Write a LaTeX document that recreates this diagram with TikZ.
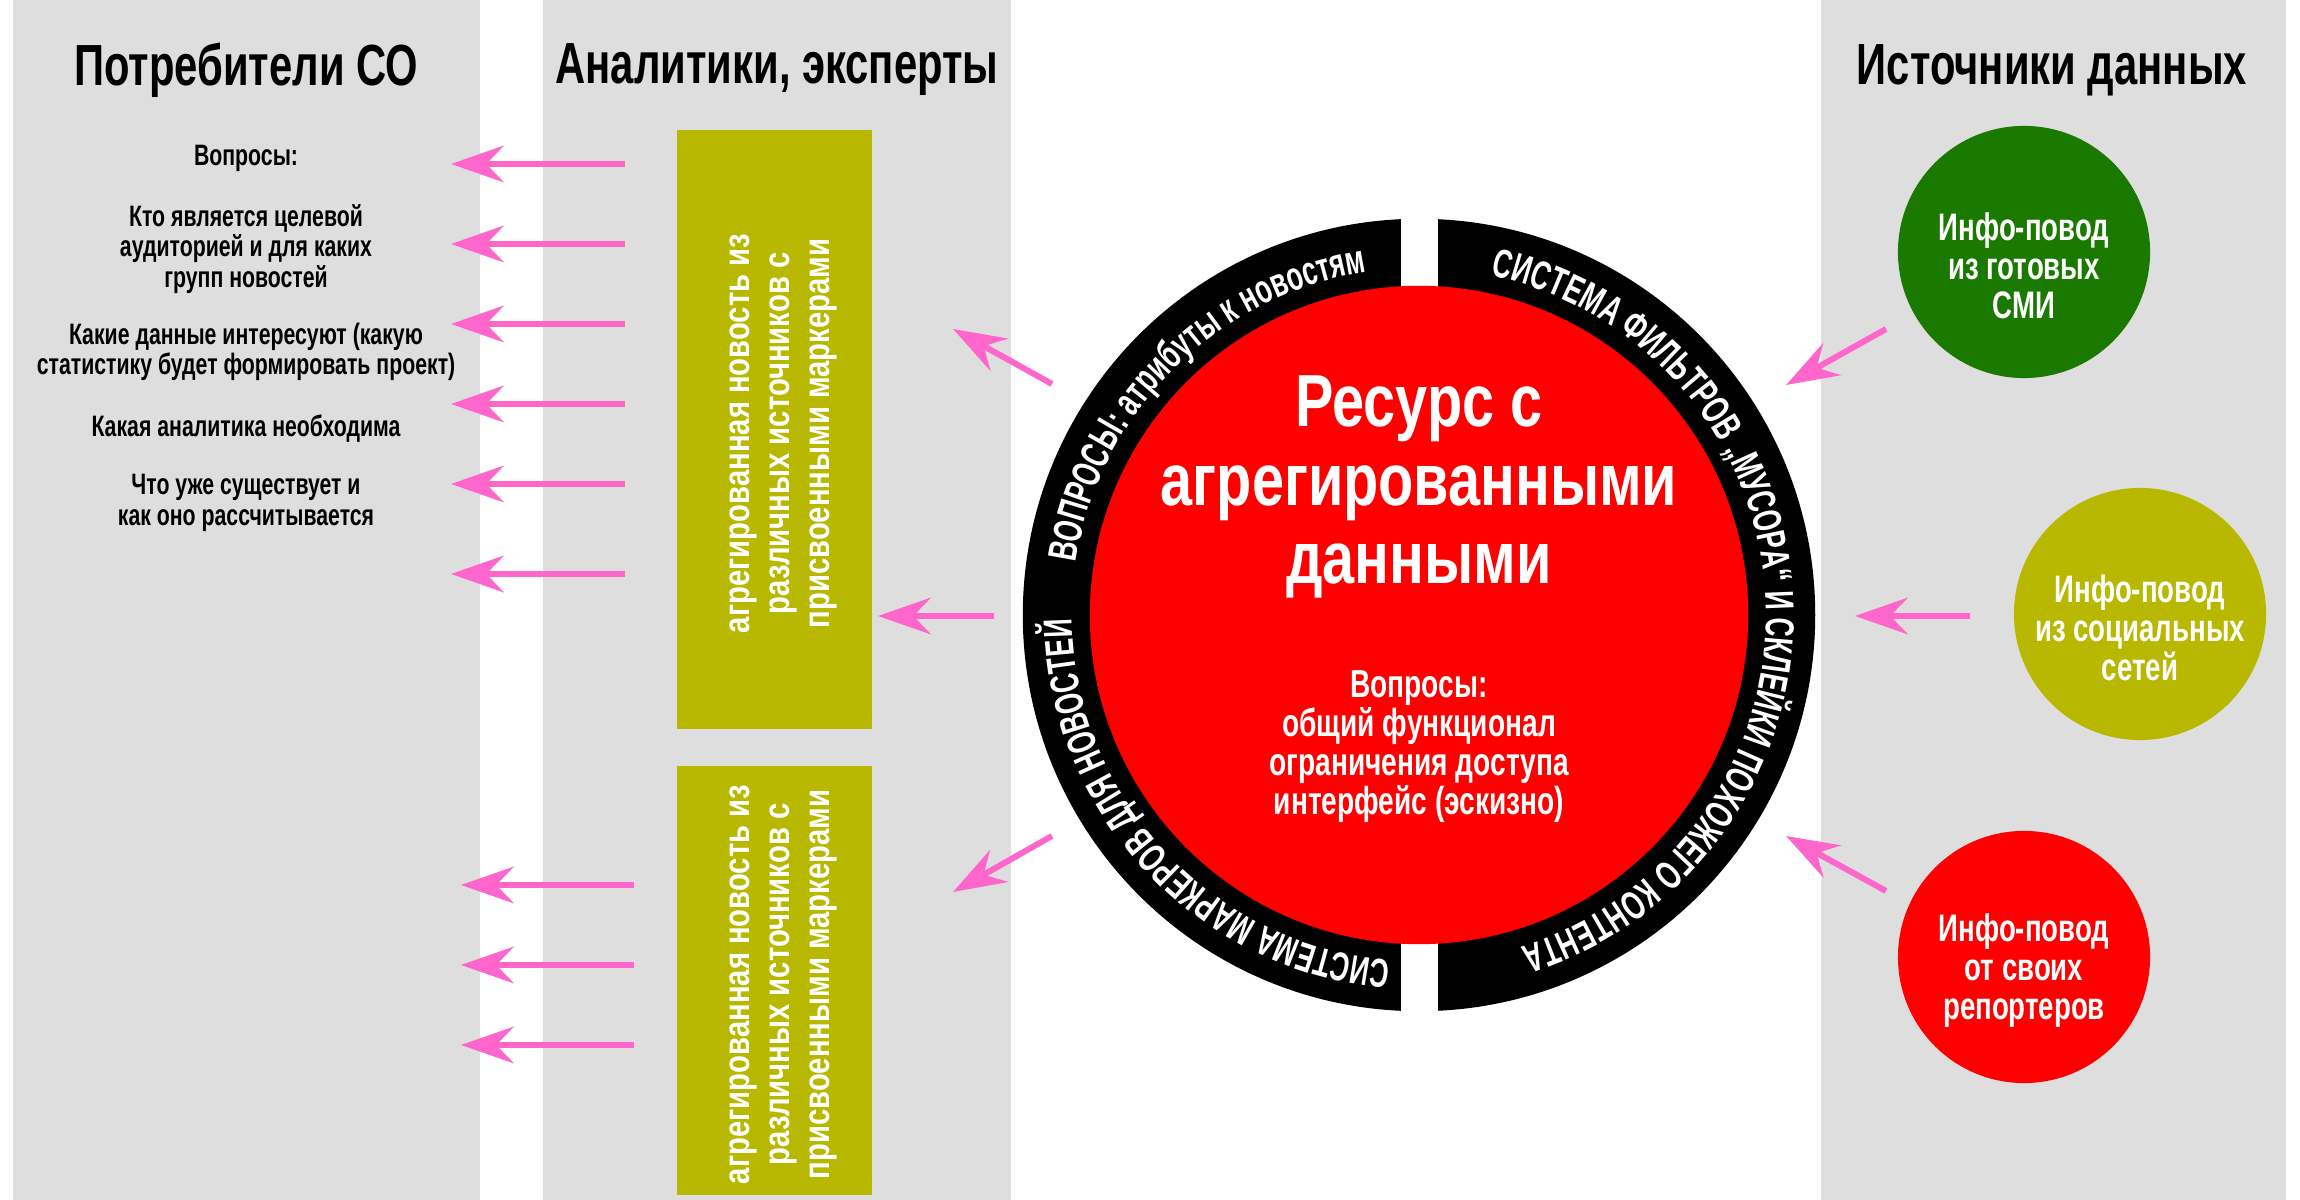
\documentclass[tikz,border=0pt]{standalone}
\usepackage{fontspec}
\setmainfont{Liberation Sans}[FakeStretch=0.72]
\newfontfamily\ringfam{Liberation Sans}[FakeStretch=0.655]
\newfontfamily\boxfam{Liberation Sans}[FakeStretch=0.80]
\newfontfamily\titlefam{Liberation Sans}[FakeStretch=0.78]
\usetikzlibrary{arrows.meta,decorations.text}
\definecolor{panelgray}{HTML}{DEDEDE}
\definecolor{arrowpink}{HTML}{FF66CC}
\definecolor{aggolive}{HTML}{B8B800}
\definecolor{srcgreen}{HTML}{1A7A00}
\definecolor{resred}{HTML}{FF0000}
\newcommand\ringfont{\ringfam\bfseries\fontsize{11.5}{12}\selectfont\color{white}}
\tikzset{
  panel/.style={fill=panelgray},
  heading/.style={font=\bfseries\fontsize{16.5}{18}\selectfont},
  ask/.style={align=center, font=\bfseries\fontsize{8.4}{8.7}\selectfont},
  pinkarr/.style={draw=arrowpink, line width=1.7pt, -{Stealth[length=15pt,width=10.4pt,inset=5pt]}},
  aggbox/.style={fill=aggolive, minimum width=1.95cm, inner sep=0pt},
  aggtext/.style={text=white, align=center, rotate=90, font=\boxfam\bfseries\fontsize{10.4}{11.4}\selectfont},
  srcnode/.style={circle, minimum size=2.52cm, inner sep=0pt},
  srclabel/.style={text=white, align=center, yshift=-0.14cm, font=\bfseries\fontsize{10.9}{11.1}\selectfont},
  ringtext/.style={decorate, decoration={text along path, text align=center, text={|\ringfont|#1}}}
}
\begin{document}
\begin{tikzpicture}[x=0.01cm, y=0.01cm, line join=round]
\fill[white] (0,0) rectangle (2300,1200);
\useasboundingbox (0,0) rectangle (2300,1200);
\fill[panel] (13,0) rectangle (480,1200);
\fill[panel] (543,0) rectangle (1011,1200);
\fill[panel] (1821,0) rectangle (2286,1200);

\node[heading] (hcons) at (246,1130) {Потребители СО};
\node[heading] (hanal) at (777,1130) {Аналитики, эксперты};
\node[heading] (hsrc) at (2052,1130) {Источники данных};

\node[ask] (q1) at (246,1042) {Вопросы:};
\node[ask] (q2) at (246,951) {Кто является целевой\\аудиторией и для каких\\групп новостей};
\node[ask] (q3) at (246,848) {Какие данные интересуют (какую\\статистику будет формировать проект)};
\node[ask] (q4) at (246,771) {Какая аналитика необходима};
\node[ask] (q5) at (246,697) {Что уже существует и\\как оно рассчитывается};

\foreach \i/\y in {1/1036,2/956,3/876,4/796,5/716,6/626}{
  \coordinate (ut\i) at (625,\y);
  \coordinate (uh\i) at (451,\y);
  \draw[pinkarr] (ut\i) -- (uh\i);
}
\foreach \i/\y in {1/315,2/235,3/155}{
  \coordinate (lt\i) at (634,\y);
  \coordinate (lh\i) at (461,\y);
  \draw[pinkarr] (lt\i) -- (lh\i);
}

\node[aggbox, minimum height=5.99cm] (agg1) at (774.5,770.5) {};
\node[aggbox, minimum height=4.29cm] (agg2) at (774.5,219.5) {};
\node[aggtext] (agg1txt) at (783.5,766.5) {агрегированная новость из\\различных источников с\\присвоенными маркерами};
\node[aggtext] (agg2txt) at (783.5,215.5) {агрегированная новость из\\различных источников с\\присвоенными маркерами};

\node[circle, fill=black, minimum size=7.92cm, inner sep=0pt] (ring) at (1419,585) {};
\fill[white] (1401,900) rectangle (1438,990);
\fill[white] (1401,180) rectangle (1438,270);
\node[circle, fill=resred, minimum size=6.58cm, inner sep=0pt] (res) at (1419,585) {};
\path[ringtext={ВОПРОСЫ: атрибуты к новостям}] (ring.center) ++(175:347) arc[start angle=175, end angle=95, radius=347];
\path[ringtext={СИСТЕМА ФИЛЬТРОВ „МУСОРА“ И СКЛЕЙКИ ПОХОЖЕГО КОНТЕНТА}] (ring.center) ++(89:347) arc[start angle=89, end angle=-84, radius=347];
\path[ringtext={СИСТЕМА МАРКЕРОВ ДЛЯ НОВОСТЕЙ}] (ring.center) ++(268:347) arc[start angle=268, end angle=178, radius=347];

\node[align=center, text=white, font=\titlefam\bfseries\fontsize{21}{22.4}\selectfont] (title) at (1419,713) {Ресурс с\\агрегированными\\данными};
\node[align=center, text=white, font=\bfseries\fontsize{11.1}{11.1}\selectfont] (asks) at (1419,453) {Вопросы:\\общий функционал\\ограничения доступа\\интерфейс (эскизно)};

\node[srcnode, fill=srcgreen, label={[srclabel]center:{Инфо-повод\\из готовых\\СМИ}}] (src1) at (2024,948) {};
\node[srcnode, fill=aggolive, label={[srclabel]center:{Инфо-повод\\из социальных\\сетей}}] (src2) at (2140,586) {};
\node[srcnode, fill=resred, label={[srclabel]center:{Инфо-повод\\от своих\\репортеров}}] (src3) at (2024,243) {};

\coordinate (ct0) at (994,584);   \coordinate (ch0) at (878,584);
\coordinate (ct1) at (1052,816);  \coordinate (ch1) at (953,871);
\coordinate (ct2) at (1052,364);  \coordinate (ch2) at (953,308);
\draw[pinkarr] (ct0) -- (ch0);
\draw[pinkarr] (ct1) -- (ch1);
\draw[pinkarr] (ct2) -- (ch2);

\coordinate (st1) at (1886,871);  \coordinate (sh1) at (1786,815);
\coordinate (st2) at (1970,584);  \coordinate (sh2) at (1855,584);
\coordinate (st3) at (1886,309);  \coordinate (sh3) at (1786,364);
\draw[pinkarr] (st1) -- (sh1);
\draw[pinkarr] (st2) -- (sh2);
\draw[pinkarr] (st3) -- (sh3);
\end{tikzpicture}
\end{document}
